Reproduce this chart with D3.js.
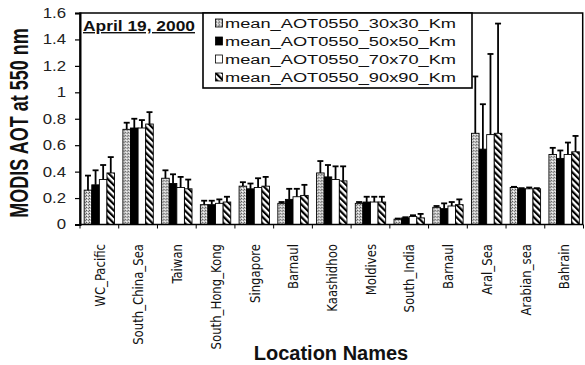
<!DOCTYPE html>
<html>
<head>
<meta charset="utf-8">
<script src="https://cdn.jsdelivr.net/npm/d3@7"></script>
<style>
  body { margin: 0; background: #fff; }
</style>
</head>
<body>
<div id="graph-container"></div>
<script>
// Chart data
var locations = ["WC_Pacific", "South_China_Sea", "Taiwan", "South_Hong_Kong", "Singapore", "Barnaul",
  "Kaashidhoo", "Moldives", "South_India", "Barnaul", "Aral_Sea", "Arabian_sea", "Bahrain"];
var seriesNames = ["mean_AOT0550_30x30_Km", "mean_AOT0550_50x50_Km", "mean_AOT0550_70x70_Km", "mean_AOT0550_90x90_Km"];
var aot30 = [0.26, 0.72, 0.35, 0.15, 0.29, 0.16, 0.39, 0.16, 0.04, 0.13, 0.69, 0.28, 0.53];
var err30 = [0.11, 0.05, 0.06, 0.03, 0.03, 0.01, 0.09, 0.01, 0.005, 0.01, 0.43, 0.005, 0.05];
var aot50 = [0.30, 0.73, 0.31, 0.15, 0.27, 0.19, 0.36, 0.17, 0.05, 0.12, 0.57, 0.27, 0.50];
var err50 = [0.11, 0.07, 0.07, 0.03, 0.04, 0.08, 0.09, 0.04, 0.005, 0.04, 0.34, 0.005, 0.06];
var aot70 = [0.34, 0.73, 0.28, 0.16, 0.28, 0.21, 0.34, 0.17, 0.06, 0.14, 0.68, 0.27, 0.53];
var err70 = [0.11, 0.06, 0.08, 0.03, 0.07, 0.06, 0.10, 0.04, 0.01, 0.03, 0.61, 0.01, 0.09];
var aot90 = [0.39, 0.76, 0.27, 0.17, 0.29, 0.22, 0.33, 0.17, 0.05, 0.15, 0.69, 0.27, 0.55];
var err90 = [0.12, 0.09, 0.07, 0.04, 0.07, 0.08, 0.11, 0.04, 0.03, 0.04, 0.83, 0.005, 0.12];
var yTicks = [0, 0.2, 0.4, 0.6, 0.8, 1, 1.2, 1.4, 1.6];
var yTickLabels = ["0", "0.2", "0.4", "0.6", "0.8", "1", "1.2", "1.4", "1.6"];

var values = [aot30, aot50, aot70, aot90];
var errors = [err30, err50, err70, err90];
var fills = ["url(#stipple)", "#000", "#fff", "url(#stripes)"];

var svgWidth = 585;
var svgHeight = 365;

var svg = d3.select("#graph-container")
  .append("svg")
  .attr("width", svgWidth)
  .attr("height", svgHeight)
  .style("font-family", "'Liberation Sans', Arial, sans-serif");

// fill patterns
var defs = svg.append("defs");
var stip = defs.append("pattern")
  .attr("id", "stipple")
  .attr("patternUnits", "userSpaceOnUse")
  .attr("width", 3).attr("height", 3);
stip.append("rect").attr("width", 3).attr("height", 3).attr("fill", "#c8c8c8");
stip.append("rect").attr("x", 0).attr("y", 0).attr("width", 1).attr("height", 1).attr("fill", "#555");
stip.append("rect").attr("x", 2).attr("y", 1).attr("width", 1).attr("height", 1).attr("fill", "#777");
stip.append("rect").attr("x", 1).attr("y", 2).attr("width", 1).attr("height", 1).attr("fill", "#fff");

var stripes = defs.append("pattern")
  .attr("id", "stripes")
  .attr("patternUnits", "userSpaceOnUse")
  .attr("width", 4.5).attr("height", 4.5)
  .attr("patternTransform", "rotate(-45)");
stripes.append("rect").attr("width", 4.5).attr("height", 4.5).attr("fill", "#fff");
stripes.append("rect").attr("width", 2.2).attr("height", 4.5).attr("fill", "#000");

// plot area
var plotLeft = 80, plotRight = 583.5, plotTop = 13, plotBottom = 224.5;

var x0 = d3.scaleBand()
  .domain(d3.range(locations.length))
  .range([plotLeft, plotRight]);

var x1 = d3.scaleBand()
  .domain(d3.range(seriesNames.length))
  .range([0, x0.bandwidth()])
  .paddingOuter(0.55);

var y = d3.scaleLinear()
  .domain([0, 1.6])
  .range([plotBottom, plotTop]);

// bars
var groups = svg.selectAll("g.loc")
  .data(locations)
  .enter()
  .append("g")
  .attr("class", "loc")
  .attr("transform", function (d, i) { return "translate(" + x0(i) + ",0)"; });

groups.each(function (d, i) {
  var g = d3.select(this);
  var rows = seriesNames.map(function (s, k) { return { k: k, v: values[k][i], e: errors[k][i] }; });

  g.selectAll("rect")
    .data(rows)
    .enter()
    .append("rect")
    .attr("x", function (r) { return x1(r.k); })
    .attr("y", function (r) { return y(r.v); })
    .attr("width", x1.bandwidth())
    .attr("height", function (r) { return y(0) - y(r.v); })
    .attr("fill", function (r) { return fills[r.k]; })
    .attr("stroke", "#000")
    .attr("stroke-width", 0.9);

  // error bars (upper only)
  var eb = g.selectAll("g.err")
    .data(rows)
    .enter()
    .append("g")
    .attr("class", "err")
    .attr("stroke", "#000")
    .attr("stroke-width", 1.8);
  eb.append("line")
    .attr("x1", function (r) { return x1(r.k) + x1.bandwidth() / 2; })
    .attr("x2", function (r) { return x1(r.k) + x1.bandwidth() / 2; })
    .attr("y1", function (r) { return y(r.v); })
    .attr("y2", function (r) { return y(r.v + r.e); });
  eb.append("line")
    .attr("x1", function (r) { return x1(r.k) + x1.bandwidth() / 2 - 3; })
    .attr("x2", function (r) { return x1(r.k) + x1.bandwidth() / 2 + 3; })
    .attr("y1", function (r) { return y(r.v + r.e); })
    .attr("y2", function (r) { return y(r.v + r.e); });
});

// plot frame
svg.append("rect")
  .attr("x", plotLeft).attr("y", plotTop)
  .attr("width", plotRight - plotLeft - 0.8).attr("height", plotBottom - plotTop)
  .attr("fill", "none")
  .attr("stroke", "#000")
  .attr("stroke-width", 1.5);

// y axis
var yAxis = svg.append("g")
  .attr("transform", "translate(" + plotLeft + ",0)")
  .call(d3.axisLeft(y).tickValues(yTicks)
    .tickFormat(function (d, i) { return yTickLabels[i]; })
    .tickSize(5).tickPadding(9));
yAxis.select(".domain").attr("stroke-width", 2);
yAxis.selectAll(".tick line").attr("stroke-width", 1.2);
yAxis.selectAll("text")
  .attr("font-size", 14)
  .attr("font-family", "'Liberation Sans', Arial, sans-serif")
  .attr("fill", "#222")
  .each(function () {
    var w = this.getComputedTextLength();
    d3.select(this).attr("textLength", w * 1.2).attr("lengthAdjust", "spacingAndGlyphs");
  });

// x ticks at category boundaries
svg.append("g")
  .selectAll("line")
  .data(d3.range(locations.length + 1))
  .enter()
  .append("line")
  .attr("x1", function (i) { return i < locations.length ? x0(i) : plotRight; })
  .attr("x2", function (i) { return i < locations.length ? x0(i) : plotRight; })
  .attr("y1", plotBottom)
  .attr("y2", plotBottom + 4)
  .attr("stroke", "#000")
  .attr("stroke-width", 1);

// x tick labels, rotated (narrow font, glyphs widened across)
svg.append("g")
  .selectAll("text")
  .data(locations)
  .enter()
  .append("text")
  .attr("transform", function (d, i) {
    return "translate(" + (x0(i) + x0.bandwidth() / 2) + "," + 244 + ") rotate(-90) scale(1,1.15)";
  })
  .attr("text-anchor", "end")
  .attr("dy", "0.35em")
  .attr("font-family", "'Liberation Sans Narrow', 'DejaVu Sans Condensed', sans-serif")
  .attr("font-size", 13)
  .attr("fill", "#111")
  .text(function (d) { return d; });

// axis titles
svg.append("text")
  .attr("transform", "translate(28,123) rotate(-90) scale(1,1.45)")
  .attr("text-anchor", "middle")
  .attr("font-size", 18)
  .attr("font-weight", "bold")
  .attr("fill", "#111")
  .text("MODIS AOT at 550 nm");

svg.append("text")
  .attr("x", 331)
  .attr("y", 360)
  .attr("text-anchor", "middle")
  .attr("font-size", 20)
  .attr("font-weight", "bold")
  .attr("fill", "#111")
  .text("Location Names");

// date label
svg.append("text")
  .attr("x", 83)
  .attr("y", 31)
  .attr("font-size", 14)
  .attr("font-weight", "bold")
  .attr("text-decoration", "underline")
  .attr("textLength", 112)
  .attr("lengthAdjust", "spacingAndGlyphs")
  .attr("fill", "#111")
  .text("April 19, 2000");

// legend
var legend = svg.append("g");
legend.append("rect")
  .attr("x", 203).attr("y", plotTop)
  .attr("width", 269).attr("height", 75)
  .attr("fill", "#fff")
  .attr("stroke", "#000")
  .attr("stroke-width", 1.6);

var items = legend.selectAll("g.item")
  .data(seriesNames)
  .enter()
  .append("g")
  .attr("class", "item")
  .attr("transform", function (d, i) { return "translate(0," + (27.5 + i * 18) + ")"; });

items.append("rect")
  .attr("x", 215.5).attr("y", -8.5)
  .attr("width", 7).attr("height", 8)
  .attr("fill", function (d, i) { return fills[i]; })
  .attr("stroke", "#000")
  .attr("stroke-width", 0.8);

items.append("text")
  .attr("x", 225)
  .attr("font-size", 12.5)
  .attr("fill", "#111")
  .attr("textLength", 231)
  .attr("lengthAdjust", "spacingAndGlyphs")
  .text(function (d) { return d; });
</script>
</body>
</html>
